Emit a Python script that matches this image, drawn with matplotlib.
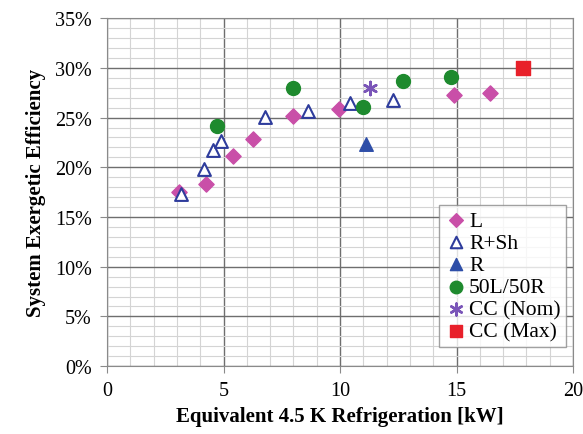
import matplotlib
matplotlib.use("Agg")
import matplotlib.pyplot as plt
from matplotlib.ticker import MultipleLocator, FuncFormatter

plt.rcParams['font.family'] = ['Liberation Serif', 'DejaVu Serif']

# Data (x: kW, y: %)
L_x = [3.07, 4.26, 5.4, 6.28, 7.97, 9.95, 14.89, 16.43]
L_y = [17.5, 18.3, 21.1, 22.8, 25.2, 25.9, 27.3, 27.5]

RSh_x = [3.17, 4.17, 4.54, 4.9, 6.79, 8.64, 10.43, 12.29]
RSh_y = [17.3, 19.8, 21.7, 22.6, 25.1, 25.7, 26.5, 26.8]

R_x = [11.11]
R_y = [22.3]

LR_x = [4.71, 7.97, 11.0, 12.69, 14.74]
LR_y = [24.2, 28.0, 26.1, 28.7, 29.1]

CCnom_x = [11.29]
CCnom_y = [28.0]

CCmax_x = [17.83]
CCmax_y = [30.0]

x_ticks = [0, 5, 10, 15, 20]
y_ticks = [0, 5, 10, 15, 20, 25, 30, 35]

fig = plt.figure(figsize=(5.83, 4.35), dpi=100)
ax = fig.add_axes([0.1835, 0.156, 0.7995, 0.8])

ax.set_xlim(0, 20)
ax.set_ylim(0, 35)
ax.set_xticks(x_ticks)
ax.set_yticks(y_ticks)
ax.xaxis.set_minor_locator(MultipleLocator(1))
ax.yaxis.set_minor_locator(MultipleLocator(1))
ax.yaxis.set_major_formatter(FuncFormatter(lambda v, p: f"{int(v)}%"))

ax.grid(which='major', color='#6e6e6e', linewidth=1.0, zorder=0)
ax.grid(which='minor', color='#d4d4d4', linewidth=0.8, zorder=0)
ax.set_axisbelow(True)
for s in ax.spines.values():
    s.set_color('#8a8a8a')
ax.tick_params(which='major', direction='out', length=5, color='#8a8a8a',
               labelsize=14.5, pad=6)
ax.tick_params(which='minor', length=0)

ax.scatter(L_x, L_y, marker='D', s=60, color='#c94fa8', label='L', zorder=3)
ax.scatter(RSh_x, RSh_y, marker='^', s=85, facecolors='white',
           edgecolors='#2e3c9c', linewidths=1.5, label='R+Sh', zorder=3)
ax.scatter(R_x, R_y, marker='^', s=95, color='#2e4ea8', label='R', zorder=3)
ax.scatter(LR_x, LR_y, marker='o', s=100, color='#1e8a2e', label='50L/50R', zorder=3)
ax.scatter(CCnom_x, CCnom_y, marker=(6, 2, 0), s=90, color='#7a55b8',
           linewidths=1.8, label='CC (Nom)', zorder=3)
ax.scatter(CCmax_x, CCmax_y, marker='s', s=100, color='#e8202a', label='CC (Max)', zorder=3)

ax.set_xlabel('Equivalent 4.5 K Refrigeration [kW]', fontsize=15, fontweight='bold', labelpad=4)
ax.set_ylabel('System Exergetic Efficiency', fontsize=15, fontweight='bold', labelpad=6)

leg = ax.legend(loc='lower right', bbox_to_anchor=(0.985, 0.055), fontsize=15.5,
                frameon=True, fancybox=False, edgecolor='#8a8a8a',
                handletextpad=0.05, borderpad=0.25, labelspacing=0.1,
                handlelength=1.1, borderaxespad=0, markerscale=0.9)
leg.get_frame().set_linewidth(1.0)

fig.savefig('out.png', dpi=100)
